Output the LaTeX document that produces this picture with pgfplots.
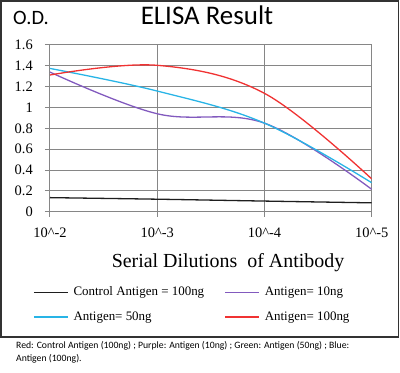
\documentclass[border=0pt]{standalone}
\usepackage{fontspec}
\setmainfont{Liberation Serif}
\newfontfamily\calib{Carlito}
\usepackage{pgfplots}
\pgfplotsset{compat=1.18}
\definecolor{gridgray}{RGB}{134,134,134}
\definecolor{cred}{RGB}{240,50,50}
\definecolor{ccyan}{RGB}{40,180,230}
\definecolor{cpurple}{RGB}{130,90,190}
\definecolor{cblack}{RGB}{30,30,30}
\begin{document}
\begin{tikzpicture}
\useasboundingbox (0bp,0bp) rectangle (400bp,373bp);
\draw[line width=1.5bp, black!80] (1bp,36bp) rectangle (398.5bp,372bp);
\node[font=\calib\fontsize{27}{30}\selectfont, anchor=base, inner sep=0pt] at (207bp,348bp) {ELISA Result};
\node[font=\calib\fontsize{20.5}{22}\selectfont, anchor=base west, inner sep=0pt] at (13bp,348bp) {O.D.};
\begin{axis}[
  at={(50bp,161.3bp)}, anchor=south west,
  scale only axis, width=321.7bp, height=166.7bp,
  xmin=0, xmax=3, ymin=0, ymax=1.6,
  xtick={0,1,2,3},
  xticklabels={10\textasciicircum-2,10\textasciicircum-3,10\textasciicircum-4,10\textasciicircum-5},
  ytick={0,0.2,0.4,0.6,0.8,1,1.2,1.4,1.6},
  yticklabels={0,0.2,0.4,0.6,0.8,1,1.2,1.4,1.6},
  grid=major,
  major grid style={gridgray, line width=1bp},
  axis line style={gridgray, line width=1bp},
  tick style={gridgray, line width=1bp},
  tick align=outside, major tick length=5bp,
  xtick pos=left, ytick pos=left,
  yticklabel style={font=\fontsize{14.5}{16}\selectfont, inner sep=0pt, anchor=east, xshift=-12bp},
  xticklabel style={font=\fontsize{14.5}{16}\selectfont, inner sep=0pt, anchor=north, yshift=-11bp},
  legend columns=2,
  legend style={at={(-0.0528,-0.443)}, anchor=north west, draw=none, fill=none,
    inner sep=0pt, font=\fontsize{13}{15}\selectfont,
    column sep=5bp, row sep=11.9bp,
    nodes={inner sep=0pt, text height=10bp, text depth=3bp}},
  legend cell align=left,
  legend image code/.code={\draw[#1] (0bp,0bp) -- (34bp,0bp);},
  every axis plot/.append style={line width=1.3bp, smooth, tension=0.6},
]
\addplot[cblack] coordinates {(0,0.135) (1,0.12) (2,0.102) (3,0.085)};
\addlegendentry{\makebox[146bp][l]{Control Antigen = 100ng}}
\addplot[cpurple] coordinates {(0,1.34) (1,0.94) (2,0.85) (3,0.215)};
\addlegendentry{Antigen= 10ng}
\addplot[ccyan] coordinates {(0,1.375) (1,1.158) (2,0.85) (3,0.278)};
\addlegendentry{\makebox[146bp][l]{Antigen= 50ng}}
\addplot[cred] coordinates {(0,1.312) (1,1.405) (2,1.136) (3,0.315)};
\addlegendentry{Antigen= 100ng}
\end{axis}
\node[font=\fontsize{20}{22}\selectfont, anchor=base, inner sep=0pt] at (228bp,105bp) {Serial Dilutions\ \ of Antibody};
\node[font=\calib\fontsize{9.75}{13}\selectfont, anchor=base west, inner sep=0pt, align=left] at (16bp,12bp) {Red: Control Antigen (100ng) ; Purple: Antigen (10ng) ; Green: Antigen (50ng) ; Blue:\\Antigen (100ng).};
\end{tikzpicture}
\end{document}
